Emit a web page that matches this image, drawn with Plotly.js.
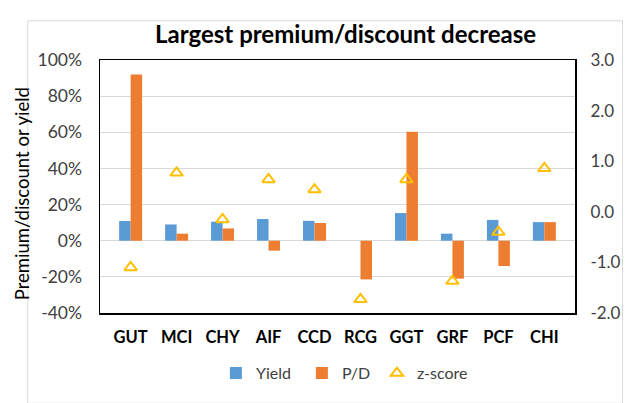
<!DOCTYPE html>
<html>
<head>
<meta charset="utf-8">
<script src="https://cdn.plot.ly/plotly-3.0.1.min.js"></script>
<style>html,body{margin:0;padding:0;background:#fff;}#chart{width:640px;height:403px;}</style>
</head>
<body>
<div id="chart"></div>
<script>
const categories = ["GUT","MCI","CHY","AIF","CCD","RCG","GGT","GRF","PCF","CHI"];
const yieldVals = [0.109, 0.090, 0.105, 0.120, 0.110, 0.000, 0.153, 0.039, 0.115, 0.103];
const pdVals = [0.920, 0.039, 0.068, -0.055, 0.098, -0.214, 0.603, -0.210, -0.140, 0.103];
const zScores = [-1.10, 0.77, -0.15, 0.64, 0.44, -1.73, 0.64, -1.37, -0.40, 0.86];
const rightTickVals = [-2, -1, 0, 1, 2, 3];
const rightTickText = ["-2.0", "-1.0", "0.0", "1.0", "2.0", "3.0"];
const leftTickVals = [-0.4, -0.2, 0, 0.2, 0.4, 0.6, 0.8, 1.0];
const leftTickText = ["-40%", "-20%", "0%", "20%", "40%", "60%", "80%", "100%"];

const font = "Lato, 'Open Sans', sans-serif";
const traces = [
  {type:"bar", name:"Yield", x:categories, y:yieldVals, marker:{color:"#5B9BD5"}, yaxis:"y", legend:"legend"},
  {type:"bar", name:"P/D", x:categories, y:pdVals, marker:{color:"#ED7D31"}, yaxis:"y", legend:"legend2"},
  {type:"scatter", mode:"markers", name:"z-score", x:categories, y:zScores, yaxis:"y2", legend:"legend3",
   marker:{symbol:"triangle-up-open", size:11, color:"#FFC000", line:{width:2, color:"#FFC000"}}}
];
const legendBase = {orientation:"h", xanchor:"left", y:-0.238, yanchor:"middle",
                    font:{family:font, size:16, color:"#404040"}, itemwidth:30, bgcolor:"rgba(0,0,0,0)"};
const layout = {
  width:640, height:403,
  margin:{l:100, r:65, t:60, b:90},
  paper_bgcolor:"#fff", plot_bgcolor:"#fff",
  title:{text:"<b>Largest premium/discount decrease</b>", x:0.54, xanchor:"center", y:0.913, yanchor:"middle",
         font:{family:font, size:24, color:"#000"}},
  barmode:"group", bargap:0.5, bargroupgap:0,
  showlegend:true,
  legend:Object.assign({}, legendBase, {x:0.244}),
  legend2:Object.assign({}, legendBase, {x:0.425}),
  legend3:Object.assign({}, legendBase, {x:0.583}),
  xaxis:{type:"category", tickfont:{family:font, size:16.5, color:"#000", weight:"bold"},
         showline:true, mirror:true, linecolor:"#000", linewidth:1.5,
         ticks:"outside", ticklen:9, tickcolor:"rgba(0,0,0,0)", showgrid:false},
  yaxis:{range:[-0.4,1.0], tickvals:leftTickVals, ticktext:leftTickText, showgrid:true, gridcolor:"#D9D9D9",
         gridwidth:1, zeroline:true, zerolinecolor:"#D9D9D9", zerolinewidth:1,
         showline:true, mirror:true, linecolor:"#000", linewidth:1.5,
         ticks:"outside", ticklen:13, tickcolor:"rgba(0,0,0,0)",
         tickfont:{family:font, size:17.5, color:"#404040"}},
  yaxis2:{overlaying:"y", side:"right", range:[-2,3], tickvals:rightTickVals, ticktext:rightTickText, showgrid:false,
          zeroline:false, showline:false, ticks:"outside", ticklen:11, tickcolor:"rgba(0,0,0,0)",
          tickfont:{family:font, size:17, color:"#404040"}},
  annotations:[{text:"Premium/discount or yield", xref:"paper", yref:"paper", x:-0.164, y:0.47,
                xanchor:"center", yanchor:"middle", textangle:-90, showarrow:false,
                font:{family:font, size:18.5, color:"#000"}}],
  shapes:[{type:"rect", xref:"paper", yref:"paper", x0:-0.152, x1:1.10, y0:-0.357, y1:1.155,
           line:{color:"#D9D9D9", width:1}}]
};
Plotly.newPlot("chart", traces, layout, {displayModeBar:false, staticPlot:true});
</script>
</body>
</html>
